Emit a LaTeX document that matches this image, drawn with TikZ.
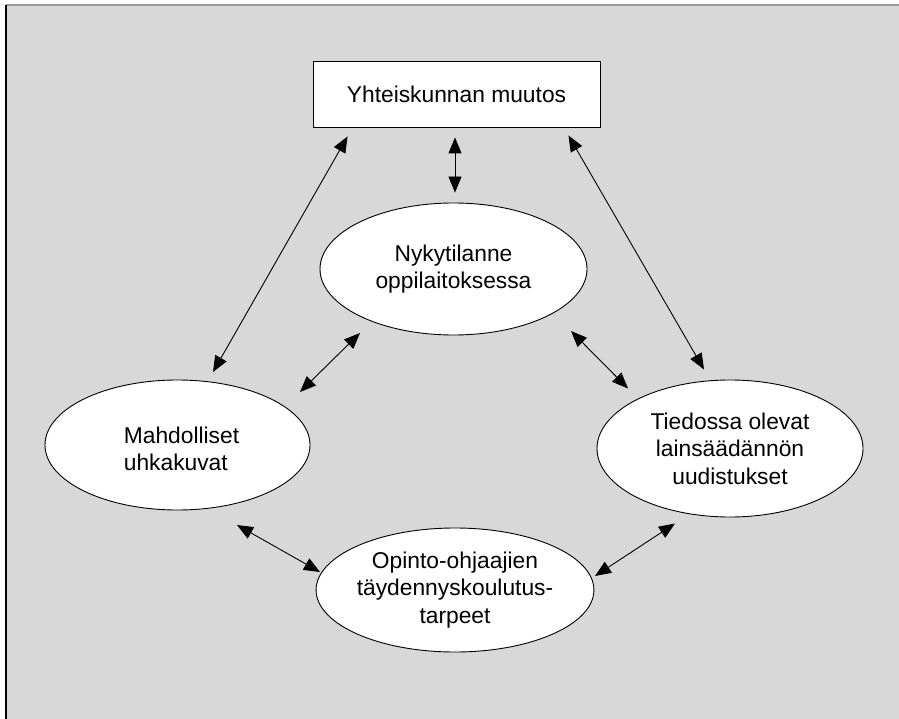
\documentclass[tikz,border=0pt]{standalone}
\usepackage{fontspec}
\setmainfont{Liberation Sans}
\usetikzlibrary{arrows.meta,calc,shapes.geometric}
\definecolor{panel}{HTML}{D8D8D8}
\definecolor{rule}{HTML}{9A9A9A}
\tikzset{
  every node/.style={font=\fontsize{22.8}{27.5}\selectfont},
  bubble/.style={ellipse, draw=black, line width=0.9pt, fill=white, inner sep=0pt},
  titlebox/.style={rectangle, draw=black, line width=0.9pt, fill=white, inner sep=0pt,
                   minimum width=287pt, minimum height=66pt},
  link/.style={line width=0.9pt, {Triangle[length=16pt,width=13pt]}-{Triangle[length=16pt,width=13pt]}}
}
\begin{document}
\begin{tikzpicture}[x=1pt,y=-1pt]
  \useasboundingbox (0,0) rectangle (899,719);
  % shaded panel with its frame lines
  \fill[panel] (6,5) rectangle (899,719);
  \draw[rule, line width=2pt] (6,5) -- (899,5);
  \draw[black, line width=2pt] (6,5) -- (6,719);

  % nodes
  \node[titlebox] (muutos) at (456.5,94) {Yhteiskunnan muutos};
  \node[bubble, minimum width=267pt, minimum height=132pt, align=center] (nyky) at (453.5,269)
       {Nykytilanne\\oppilaitoksessa};
  \node[bubble, minimum width=265pt, minimum height=130pt] (uhka) at (177.5,445) {};
  \node[align=left] at ($(uhka)+(4,4)$) {Mahdolliset\\uhkakuvat};
  \node[bubble, minimum width=266pt, minimum height=137pt, align=center] (laki) at (730,448.5)
       {Tiedossa olevat\\lainsäädännön\\uudistukset};
  \node[bubble, minimum width=266pt, minimum height=124pt, align=center] (tarve) at (455,590)
       {Opinto-ohjaajien\\täydennyskoulutus-\\tarpeet};

  % connector ends
  \coordinate (m-s)  at ($(muutos.south)+(-1.5,10)$);
  \coordinate (n-n)  at ($(nyky.north)+(1.5,-10)$);
  \coordinate (m-sw) at ($(muutos.south west)+(35,9)$);
  \coordinate (u-ne) at ($(uhka)+(35.5,-73)$);
  \coordinate (m-se) at ($(muutos.south east)+(-32,8)$);
  \coordinate (l-nw) at ($(laki)+(-26,-79)$);
  \coordinate (n-sw) at ($(nyky)+(-93.5,64)$);
  \coordinate (u-e)  at ($(uhka)+(122.5,-53)$);
  \coordinate (n-se) at ($(nyky)+(117.5,62)$);
  \coordinate (l-w)  at ($(laki)+(-102,-60)$);
  \coordinate (u-se) at ($(uhka)+(59.5,80)$);
  \coordinate (t-w)  at ($(tarve)+(-135,-18)$);
  \coordinate (t-e)  at ($(tarve)+(140,-14)$);
  \coordinate (l-sw) at ($(laki)+(-55,75)$);

  % connectors
  \draw[link] (m-s) -- (n-n);
  \draw[link] (m-sw) -- (u-ne);
  \draw[link] (m-se) -- (l-nw);
  \draw[link] (n-sw) -- (u-e);
  \draw[link] (n-se) -- (l-w);
  \draw[link] (u-se) -- (t-w);
  \draw[link] (t-e) -- (l-sw);
\end{tikzpicture}
\end{document}
